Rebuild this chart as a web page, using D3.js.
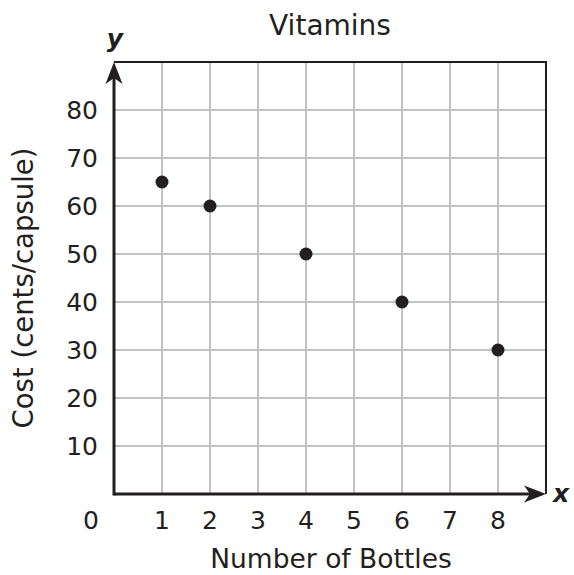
<!DOCTYPE html>
<html>
<head>
<meta charset="utf-8">
<script src="https://cdn.jsdelivr.net/npm/d3@7"></script>
<style>
  html, body { margin: 0; padding: 0; background: #fff; }
  svg { display: block; }
  text { font-family: "DejaVu Sans", Verdana, sans-serif; fill: #231f20; }
</style>
</head>
<body>
<svg id="chart" width="574" height="575"></svg>
<script>
// Vitamins: cost per capsule by number of bottles
const bottles = [1, 2, 4, 6, 8];
const costs = [65, 60, 50, 40, 30];
const xTicks = [0, 1, 2, 3, 4, 5, 6, 7, 8];
const yTicks = [10, 20, 30, 40, 50, 60, 70, 80];
const xGrid = [1, 2, 3, 4, 5, 6, 7, 8];
const yGrid = [10, 20, 30, 40, 50, 60, 70, 80];

const svg = d3.select("#chart");
const plotLeft = 114, plotRight = 546, plotTop = 62, plotBottom = 494;

const x = d3.scaleLinear().domain([0, 9]).range([plotLeft, plotRight]);
const y = d3.scaleLinear().domain([0, 90]).range([plotBottom, plotTop]);

const ink = "#231f20";
const gridColor = "#c2c2c6";

// grid
svg.append("g").selectAll("line").data(xGrid).join("line")
  .attr("x1", d => x(d)).attr("x2", d => x(d))
  .attr("y1", plotTop).attr("y2", plotBottom)
  .attr("stroke", gridColor).attr("stroke-width", 2);
svg.append("g").selectAll("line").data(yGrid).join("line")
  .attr("x1", plotLeft).attr("x2", plotRight)
  .attr("y1", d => y(d)).attr("y2", d => y(d))
  .attr("stroke", gridColor).attr("stroke-width", 2);

// top and right frame
svg.append("path")
  .attr("d", `M${x(0)},${y(90)}H${x(9)}V${y(0)}`)
  .attr("fill", "none").attr("stroke", ink).attr("stroke-width", 2);

// axes with arrowheads
function arrowHead(tipX, tipY, dir) {
  const L = 22, W = 8.5, notch = 6;
  let pts;
  if (dir === "up") {
    pts = [[tipX, tipY], [tipX + W, tipY + L], [tipX, tipY + L - notch], [tipX - W, tipY + L]];
  } else {
    pts = [[tipX, tipY], [tipX - L, tipY - W], [tipX - L + notch, tipY], [tipX - L, tipY + W]];
  }
  svg.append("path").attr("d", "M" + pts.join("L") + "Z").attr("fill", ink);
}
svg.append("line")
  .attr("x1", x(0)).attr("x2", x(9) - 10)
  .attr("y1", y(0)).attr("y2", y(0))
  .attr("stroke", ink).attr("stroke-width", 3);
svg.append("line")
  .attr("x1", x(0)).attr("x2", x(0))
  .attr("y1", y(0) + 1.5).attr("y2", y(90) + 10)
  .attr("stroke", ink).attr("stroke-width", 3);
arrowHead(x(9), y(0), "right");
arrowHead(x(0), y(90), "up");

// tick labels
svg.append("g").selectAll("text").data(xTicks).join("text")
  .attr("x", d => d === 0 ? x(0) - 23 : x(d))
  .attr("y", 529)
  .attr("text-anchor", "middle")
  .attr("font-size", 25)
  .text(d => d);
svg.append("g").selectAll("text").data(yTicks).join("text")
  .attr("x", 98)
  .attr("y", d => y(d) + 9)
  .attr("text-anchor", "end")
  .attr("font-size", 25)
  .text(d => d);

// points
svg.append("g").selectAll("circle").data(bottles).join("circle")
  .attr("cx", d => x(d))
  .attr("cy", (d, i) => y(costs[i]))
  .attr("r", 6.5)
  .attr("fill", ink);

// titles
svg.append("text").attr("x", 330).attr("y", 35)
  .attr("text-anchor", "middle").attr("font-size", 28).text("Vitamins");
svg.append("text").attr("x", 331).attr("y", 568)
  .attr("text-anchor", "middle").attr("font-size", 26.5).text("Number of Bottles");
svg.append("text")
  .attr("transform", "translate(33,288) rotate(-90)")
  .attr("text-anchor", "middle").attr("font-size", 27.5).text("Cost (cents/capsule)");

// axis letters
svg.append("text").attr("x", 115).attr("y", 47)
  .attr("text-anchor", "middle").attr("font-size", 25)
  .attr("font-weight", "bold").attr("font-style", "italic").text("y");
svg.append("text").attr("x", 561).attr("y", 502)
  .attr("text-anchor", "middle").attr("font-size", 25)
  .attr("font-weight", "bold").attr("font-style", "italic").text("x");
</script>
</body>
</html>
